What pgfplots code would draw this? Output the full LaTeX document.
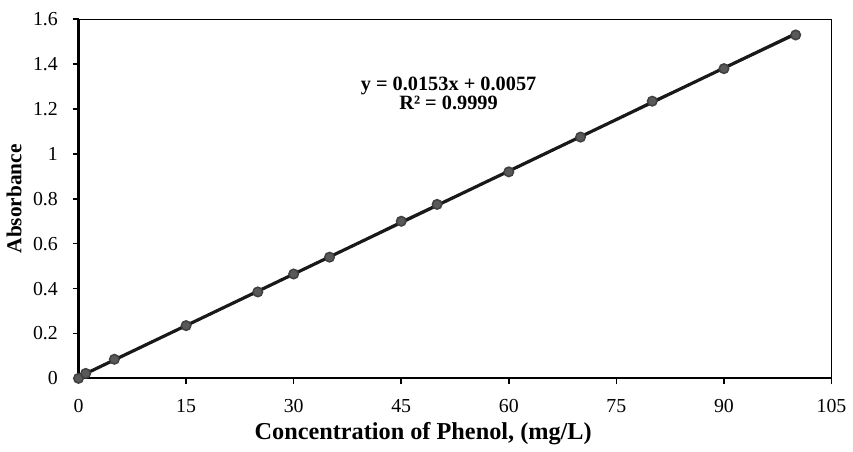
\documentclass[border={0pt 0pt 0pt 6pt}]{standalone}
\usepackage{fontspec}
\setmainfont{Liberation Serif}
\usepackage{pgfplots}
\pgfplotsset{compat=1.18}
\begin{document}
\fontsize{20}{24}\selectfont
\begin{tikzpicture}
\begin{axis}[
  scale only axis,
  width=757bp, height=361bp,
  xmin=0, xmax=105, ymin=0, ymax=1.6,
  xtick={0,15,...,105},
  ytick={0,0.2,...,1.6},
  yticklabels={0,0.2,0.4,0.6,0.8,1,1.2,1.4,1.6},
  tick align=outside,
  xtick pos=bottom, ytick pos=left,
  major tick length=6bp,
  axis line style={line width=1pt},
  tick style={line width=1.6pt, black},
  /pgf/number format/assume math mode=true,
  ticklabel style={font=\fontsize{20}{24}\selectfont},
  xticklabel style={yshift=-8bp},
  yticklabel style={xshift=-8bp},
  xlabel={\textbf{Concentration of Phenol, (mg/L)}},
  ylabel={\textbf{Absorbance}},
  xlabel style={font=\fontsize{24.5}{26}\selectfont, yshift=3bp, xshift=-32bp},
  ylabel style={font=\fontsize{21.5}{24}\selectfont, yshift=-2bp},
  clip=false,
]
\draw[line width=2.2pt] (rel axis cs:0,0) -- (rel axis cs:0,1);
\draw[line width=2.2pt] (rel axis cs:0,0) -- (rel axis cs:1,0);
\addplot[color=black!70, line width=1.5pt, mark=*, mark size=4.8bp, mark options={fill=black!65, draw=black!75}]
coordinates {
(0,0) (1,0.022) (5,0.085) (15,0.235) (25,0.385) (30,0.465) (35,0.540)
(45,0.700) (50,0.775) (60,0.920) (70,1.075) (80,1.235) (90,1.380) (100,1.530)
};
\addplot[color=black!90, line width=3.2pt] coordinates {(0,0.0057) (100,1.5357)};
\node[align=center, font=\bfseries\fontsize{20.5}{19.5}\selectfont] at (axis cs:51.6,1.27) {y = 0.0153x + 0.0057\\R² = 0.9999};
\end{axis}
\end{tikzpicture}
\end{document}
